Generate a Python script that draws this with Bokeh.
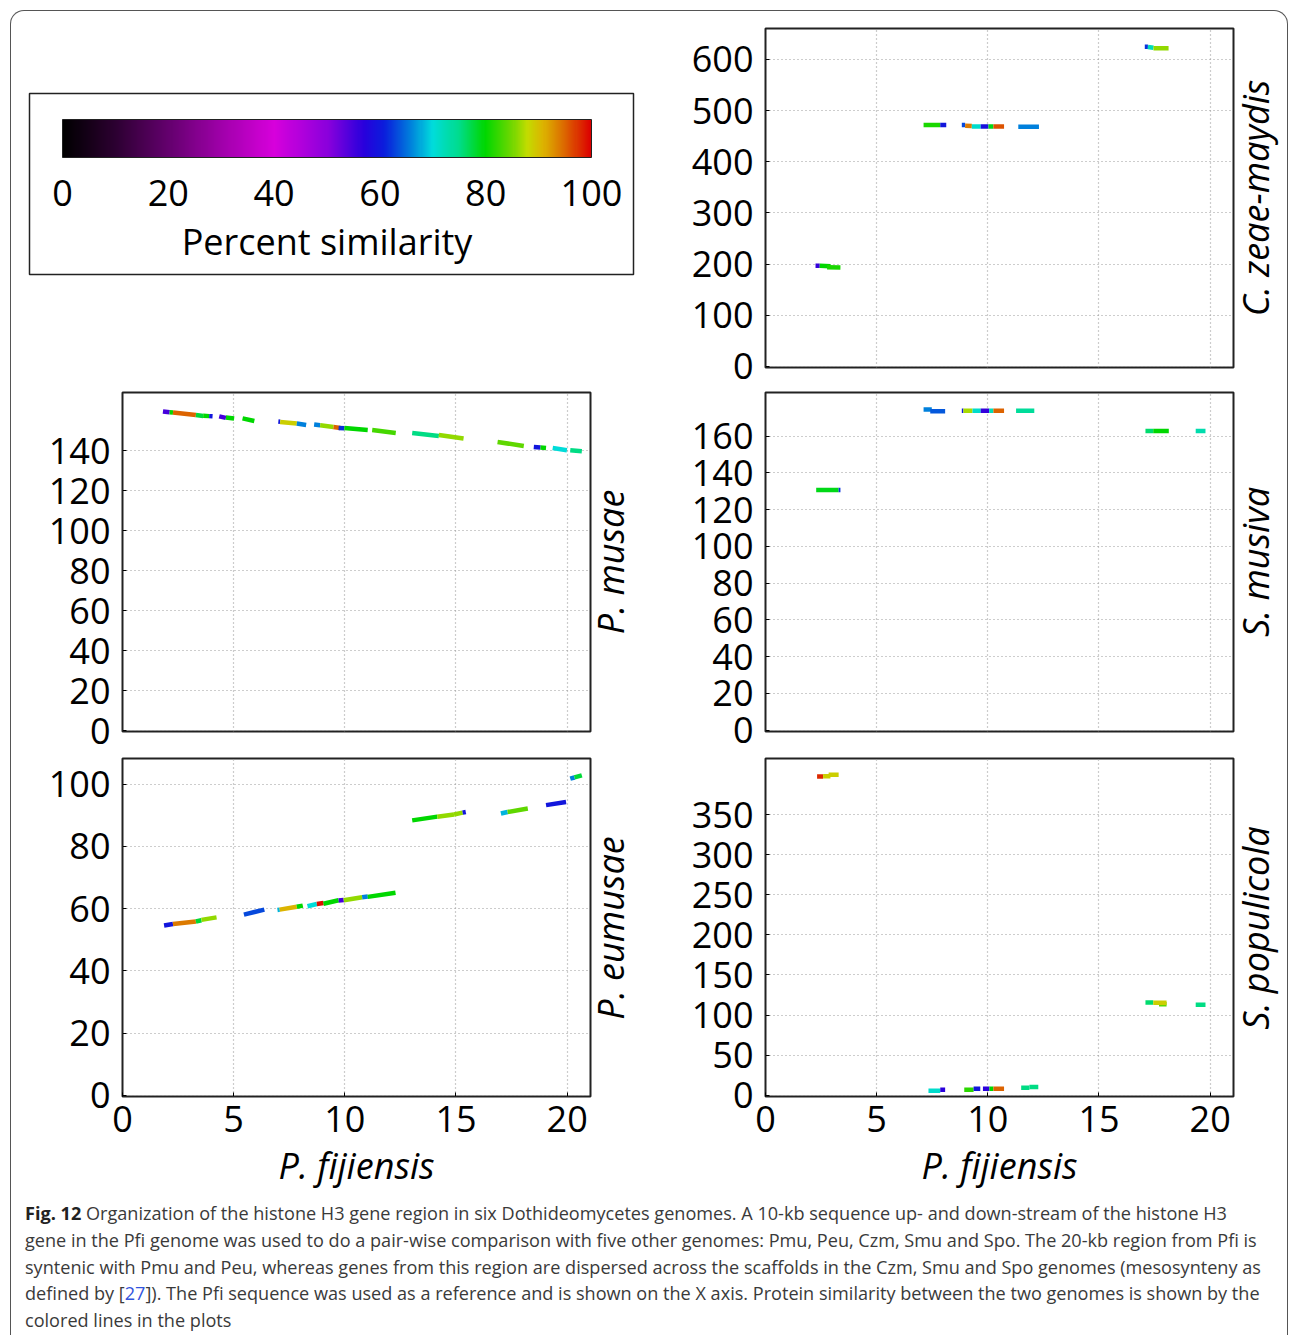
import numpy as np
from bokeh.plotting import figure
from bokeh.models import Range1d, FixedTicker, Div, LinearColorMapper, ColumnDataSource
from bokeh.core.properties import value
from bokeh.layouts import row, column
from bokeh.transform import linear_cmap
from bokeh.embed import file_html
from bokeh.resources import INLINE

# ---------------- colour scale (percent similarity) ----------------
scale_pos = [0, 10, 20, 30, 40, 50, 57, 61, 66, 70, 75, 80, 85, 88, 91, 95, 100]
scale_rgb = [(0, 0, 0), (45, 0, 50), (100, 0, 110), (160, 0, 170), (215, 0, 220),
             (140, 0, 220), (40, 0, 220), (10, 30, 220), (0, 130, 220), (0, 220, 220),
             (0, 220, 140), (0, 215, 0), (110, 215, 0), (195, 220, 0), (220, 180, 0),
             (220, 105, 0), (220, 0, 0)]
legend_ticks = [0, 20, 40, 60, 80, 100]
legend_tick_labels = ["0", "20", "40", "60", "80", "100"]
legend_title = "Percent similarity"

# ---------------- data: x = P. fijiensis (kb), y = other genome ----------------
x_ticks = [0, 5, 10, 15, 20]
x_label = "P. fijiensis"

# C. zeae-maydis
czm_x0 = [2.25, 2.44, 2.77, 7.11, 7.86, 8.83, 8.98, 9.28, 9.68, 10.03, 10.25, 11.37, 17.06, 17.20, 17.45]
czm_x1 = [2.44, 2.92, 3.37, 7.86, 8.13, 8.98, 9.28, 9.68, 10.03, 10.25, 10.73, 12.30, 17.20, 17.45, 18.13]
czm_y0 = [197, 197, 194, 472, 472, 472, 470.5, 469, 469, 469, 469, 468.5, 625, 624.5, 622]
czm_y1 = [197, 196, 193.5, 472, 472, 472, 470, 469, 469, 469, 469, 468.5, 625, 623, 622]
czm_sim = [56, 80, 81, 81, 60, 63, 94, 71, 59, 79, 96, 66, 62, 72, 86]
czm_yticks = [0, 100, 200, 300, 400, 500, 600]

# P. musae
pmu_x0 = [1.82, 2.12, 2.27, 3.30, 3.63, 3.90, 4.35, 4.65, 5.40, 7.01, 7.09, 7.84, 8.62, 8.89, 9.49,
          9.72, 9.98, 11.23, 13.03, 14.23, 16.87, 18.50, 18.80, 19.35, 20.14]
pmu_x1 = [2.12, 2.27, 3.30, 3.63, 3.90, 4.05, 4.65, 5.02, 5.93, 7.09, 7.84, 8.26, 8.89, 9.49, 9.80,
          9.98, 11.03, 12.29, 14.23, 15.34, 18.05, 18.80, 19.05, 19.99, 20.66]
pmu_y0 = [159.5, 159.1, 159.0, 157.8, 157.4, 157.2, 157.1, 156.5, 156.1, 154.5, 154.3, 153.5, 153.0,
          152.6, 151.8, 151.3, 151.3, 150.3, 148.8, 147.8, 144.3, 141.8, 141.5, 141.3, 140.2]
pmu_y1 = [159.1, 159.0, 157.8, 157.3, 157.2, 157.1, 156.3, 156.0, 154.8, 154.4, 153.5, 152.8, 152.6,
          151.8, 151.3, 151.1, 150.3, 148.8, 147.3, 146.0, 142.3, 141.5, 141.3, 140.2, 139.7]
pmu_sim = [55, 80, 95, 78, 80, 60, 55, 80, 80, 60, 89, 66, 66, 86, 95, 62, 80, 83, 75, 86, 84, 60, 80, 70, 75]
pmu_yticks = [0, 20, 40, 60, 80, 100, 120, 140]

# P. eumusae
peu_x0 = [1.87, 2.27, 3.30, 3.55, 5.46, 6.97, 7.07, 7.84, 8.32, 8.74, 9.04, 9.72, 9.95, 10.78, 11.03,
          13.03, 14.16, 14.91, 15.30, 17.02, 17.32, 19.05, 20.14, 20.33]
peu_x1 = [2.27, 3.30, 3.55, 4.23, 6.38, 7.07, 7.84, 8.11, 8.74, 9.04, 9.72, 9.95, 10.78, 11.03, 12.28,
          14.16, 14.91, 15.30, 15.44, 17.32, 18.23, 19.95, 20.33, 20.66]
peu_y0 = [54.6, 55.1, 55.9, 56.4, 58.1, 59.6, 59.7, 60.6, 60.8, 61.5, 61.6, 62.6, 62.7, 63.7, 63.8,
          88.4, 89.6, 90.3, 90.9, 90.6, 91.1, 93.3, 101.8, 102.2]
peu_y1 = [55.1, 55.9, 56.3, 57.2, 59.7, 59.7, 60.6, 61.0, 61.5, 61.8, 62.7, 62.8, 63.7, 63.9, 65.1,
          89.6, 90.3, 90.9, 91.1, 91.1, 92.2, 94.3, 102.2, 102.9]
peu_sim = [60, 94, 78, 86, 63, 68, 91, 80, 70, 99, 80, 55, 86, 66, 80, 80, 86, 86, 60, 68, 84, 60, 66, 78]
peu_yticks = [0, 20, 40, 60, 80, 100]

# S. musiva
smu_x0 = [2.28, 3.29, 7.11, 7.41, 8.83, 8.90, 9.31, 9.68, 10.06, 10.25, 11.27, 17.09, 17.44, 19.35]
smu_x1 = [3.29, 3.37, 7.48, 8.08, 8.90, 9.31, 9.68, 10.06, 10.25, 10.73, 12.09, 17.44, 18.14, 19.79]
smu_y0 = [130.8, 130.8, 174.5, 173.6, 173.8, 173.8, 173.8, 173.8, 173.8, 173.8, 173.8, 162.9, 162.9, 162.9]
smu_y1 = [130.8, 130.8, 174.5, 173.6, 173.8, 173.8, 173.8, 173.8, 173.8, 173.8, 173.8, 162.9, 162.9, 162.9]
smu_sim = [79, 62, 66, 64, 60, 87, 71, 56, 72, 95, 74, 76, 80, 73]
smu_yticks = [0, 20, 40, 60, 80, 100, 120, 140, 160]

# S. populicola
spo_x0 = [2.32, 2.59, 2.84, 7.33, 7.86, 8.94, 9.36, 9.78, 10.07, 10.25, 11.50, 11.87, 17.70, 17.09, 17.44, 19.35]
spo_x1 = [2.59, 2.92, 3.29, 7.86, 8.08, 9.36, 9.66, 10.07, 10.25, 10.73, 11.87, 12.27, 18.04, 17.44, 18.04, 19.79]
spo_y0 = [397.6, 398.0, 399.7, 5.5, 6.7, 6.7, 8.0, 8.0, 8.0, 8.0, 9.2, 10.4, 113.6, 115.7, 115.2, 112.8]
spo_y1 = [397.6, 398.0, 399.7, 5.5, 6.7, 6.7, 8.0, 8.0, 8.0, 8.0, 9.2, 10.4, 113.6, 115.7, 115.2, 112.8]
spo_sim = [98, 89, 89, 71, 57, 82, 60, 57, 80, 95, 75, 75, 84, 76, 89, 75]
spo_yticks = [0, 50, 100, 150, 200, 250, 300, 350]

# ---------------- palette ----------------
pts = np.linspace(0, 100, 256)
arr = np.array(scale_rgb, dtype=float)
PALETTE = []
for v in pts:
    r = np.interp(v, scale_pos, arr[:, 0])
    g = np.interp(v, scale_pos, arr[:, 1])
    b = np.interp(v, scale_pos, arr[:, 2])
    PALETTE.append("#%02x%02x%02x" % (int(round(r)), int(round(g)), int(round(b))))

FONT = "Open Sans"
X_RANGE = (0, 21.05)
FRAME_H = 339
OVERLAP = 24
# per row: (min_border_top, min_border_bottom)
ROW_GEOM = {1: (17, 12 + OVERLAP), 2: (13, 14 + OVERLAP), 3: (13, 95)}


def panel(x0, x1, y0, y1, sim, yr, yticks, row_no, mbl):
    mt, mb = ROW_GEOM[row_no]
    w = mbl + 468 + 2
    h = mt + FRAME_H + mb
    p = figure(width=w, height=h, x_range=Range1d(*X_RANGE), y_range=Range1d(*yr),
               output_backend="svg", toolbar_location=None,
               min_border_left=mbl, min_border_right=2,
               min_border_top=mt, min_border_bottom=mb)
    p.background_fill_color = "white"
    p.border_fill_color = None
    p.outline_line_color = "#222222"
    p.outline_line_width = 2
    p.xgrid.ticker = FixedTicker(ticks=x_ticks)
    p.ygrid.ticker = FixedTicker(ticks=yticks)
    for g in (p.xgrid, p.ygrid):
        g.grid_line_color = "#9a9a9a"
        g.grid_line_dash = "1 3"
        g.grid_line_width = 1.2
    p.yaxis.ticker = FixedTicker(ticks=yticks)
    p.yaxis.axis_line_color = None
    p.yaxis.major_tick_in = 4
    p.yaxis.major_tick_out = 0
    p.yaxis.minor_tick_line_color = None
    p.yaxis.major_label_standoff = 12
    p.yaxis.major_label_text_font = FONT
    p.yaxis.major_label_text_font_size = "36px"
    p.yaxis.major_label_text_color = "black"
    if row_no == 3:
        p.xaxis.ticker = FixedTicker(ticks=x_ticks)
        p.xaxis.axis_line_color = None
        p.xaxis.major_tick_in = 4
        p.xaxis.major_tick_out = 0
        p.xaxis.minor_tick_line_color = None
        p.xaxis.major_label_standoff = 9
        p.xaxis.major_label_text_font = FONT
        p.xaxis.major_label_text_font_size = "36px"
        p.xaxis.major_label_text_color = "black"
        p.xaxis.axis_label = x_label
        p.xaxis.axis_label_text_font = FONT
        p.xaxis.axis_label_text_font_style = "italic"
        p.xaxis.axis_label_text_font_size = "36px"
        p.xaxis.axis_label_text_color = "black"
        p.xaxis.axis_label_standoff = 6
    else:
        p.xaxis.visible = False
    src = ColumnDataSource(dict(x0=x0, x1=x1, y0=y0, y1=y1, sim=sim))
    p.segment(x0="x0", y0="y0", x1="x1", y1="y1", source=src,
              line_color=linear_cmap("sim", PALETTE, 0, 100), line_width=4.5, line_cap="butt")
    return p


def side_label(name, row_no, width):
    mt, mb = ROW_GEOM[row_no]
    h = mt + FRAME_H + mb
    cy = mt + FRAME_H / 2
    html = ("<div style='position:relative;width:%dpx;height:%dpx;overflow:visible'>"
            "<div style='position:absolute;left:%dpx;top:%.1fpx;"
            "transform:translate(-50%%,-50%%) rotate(-90deg);white-space:nowrap;"
            "font-family:\"Open Sans\";font-style:italic;font-size:36px;line-height:1;"
            "color:black'>%s</div></div>") % (width, h, width // 2, cy, name)
    return Div(text=html, width=width, height=h, margin=0)


# ---------------- legend (colour bar) ----------------
# legend frame shares row-1 top/bottom borders; y is measured in px below the box top
mt1, mb1 = ROW_GEOM[1]
PX = 5.29  # px per percent on the bar
leg = figure(width=626, height=mt1 + FRAME_H + mb1,
             x_range=Range1d(-37 / PX, 575 / PX), y_range=Range1d(-274, 65),
             output_backend="svg", toolbar_location=None,
             min_border_left=14, min_border_right=0, min_border_top=mt1, min_border_bottom=mb1)
leg.border_fill_color = None
leg.background_fill_color = None
leg.outline_line_color = None
leg.grid.visible = False
leg.axis.visible = False
# legend box
leg.quad(left=[-33 / PX], right=[571 / PX], bottom=[-181], top=[0],
         fill_color="white", line_color="#222222", line_width=1.5)
cmap = LinearColorMapper(palette=PALETTE, low=0, high=100)
leg.image(image=[np.array([pts])], x=0, y=-64, dw=100, dh=38, color_mapper=cmap)
leg.quad(left=[0], right=[100], bottom=[-64], top=[-26], fill_color=None,
         line_color="#222222", line_width=1)
leg.text(x=legend_ticks, y=[-99] * len(legend_ticks), text=legend_tick_labels,
         text_font=value(FONT), text_font_size="36px", text_align="center",
         text_baseline="alphabetic", text_color="black")
leg.text(x=[50], y=[-148], text=[legend_title],
         text_font=value(FONT), text_font_size="36px", text_align="center",
         text_baseline="alphabetic", text_color="black")

p_czm = panel(czm_x0, czm_x1, czm_y0, czm_y1, czm_sim, (-2, 660.5), czm_yticks, 1, 128)
p_pmu = panel(pmu_x0, pmu_x1, pmu_y0, pmu_y1, pmu_sim, (-0.3, 169), pmu_yticks, 2, 111)
p_smu = panel(smu_x0, smu_x1, smu_y0, smu_y1, smu_sim, (-0.7, 183.8), smu_yticks, 2, 135)
p_peu = panel(peu_x0, peu_x1, peu_y0, peu_y1, peu_sim, (-0.4, 108.3), peu_yticks, 3, 111)
p_spo = panel(spo_x0, spo_x1, spo_y0, spo_y1, spo_sim, (-1.6, 420), spo_yticks, 3, 135)

caption_lines = [
    "<b style='color:#222'>Fig. 12</b> Organization of the histone H3 gene region in six Dothideomycetes genomes. A 10-kb sequence up- and down-stream of the histone H3",
    "gene in the Pfi genome was used to do a pair-wise comparison with five other genomes: Pmu, Peu, Czm, Smu and Spo. The 20-kb region from Pfi is",
    "syntenic with Pmu and Peu, whereas genes from this region are dispersed across the scaffolds in the Czm, Smu and Spo genomes (mesosynteny as",
    "defined by [<span style='color:#3355dd'>27</span>]). The Pfi sequence was used as a reference and is shown on the X axis. Protein similarity between the two genomes is shown by the",
    "colored lines in the plots",
]
cap = Div(text="<br>".join(caption_lines), width=1262, height=140, margin=(8, 0, 0, 14),
          styles={"font-family": "Open Sans", "font-size": "18.1px", "line-height": "26.75px",
                  "color": "#3a3a3a", "white-space": "nowrap"})

layout = column(
    row(leg, p_czm, side_label("C. zeae-maydis", 1, 42)),
    row(p_pmu, side_label("P. musae", 2, 38), p_smu, side_label("S. musiva", 2, 42),
        margin=(-OVERLAP, 0, 0, 0)),
    row(p_peu, side_label("P. eumusae", 3, 38), p_spo, side_label("S. populicola", 3, 42),
        margin=(-OVERLAP, 0, 0, 0)),
    cap,
    margin=(10, 0, 0, 10),
    styles={"border": "1.5px solid #555", "border-bottom": "none",
            "border-radius": "14px 14px 0 0", "background": "white"},
)

open("out.html", "w").write(file_html(layout, INLINE))
